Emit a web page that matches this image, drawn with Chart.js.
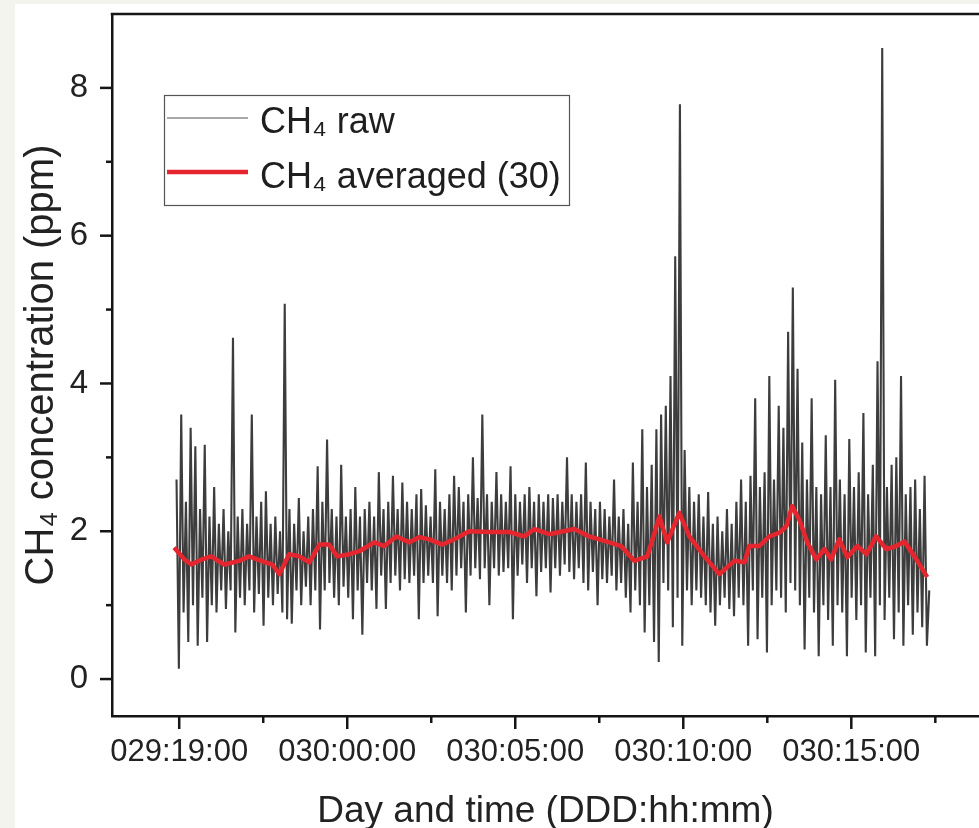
<!DOCTYPE html>
<html><head><meta charset="utf-8">
<script src="https://cdn.jsdelivr.net/npm/chart.js@4/dist/chart.umd.min.js"></script>
<style>
html,body{margin:0;padding:0;background:#f3f5ec;width:979px;height:828px;overflow:hidden}
#wrap{position:absolute;left:15px;top:4px;width:964px;height:824px;background:#fff}
canvas{display:block}
</style></head><body>
<div id="wrap"><canvas id="c" width="964" height="824"></canvas></div>
<script>
// ---- data (hours since day 029 00:00) ----
const rawStartHour = 18.92;
const rawStepHour = 0.07;
const rawValues = [
2.7,0.14,3.58,0.9,2.4,0.5,3.4,1.0,3.15,0.45,2.3,1.1,3.17,0.5,2.2,1.0,2.6,0.9,2.1,1.2,
2.3,0.95,2.0,1.2,4.62,0.63,2.2,1.1,2.3,1.0,2.1,1.2,3.58,0.9,2.2,1.15,2.4,0.72,2.54,1.1,
2.1,1.0,2.2,1.15,2.0,0.9,5.08,0.81,2.3,0.75,2.1,1.2,2.45,1.0,2.0,1.25,2.2,1.0,2.3,1.2,
2.88,0.67,2.4,1.2,3.24,1.3,2.3,1.1,2.2,1.0,2.9,1.25,2.2,1.1,2.3,0.81,2.6,1.2,2.2,0.6,
2.3,1.3,2.4,1.2,2.2,0.95,2.8,1.4,2.3,0.95,2.4,1.3,2.75,1.4,2.3,1.2,2.66,1.35,2.4,1.3,
2.3,1.4,2.5,0.81,2.57,1.3,2.35,1.4,2.2,1.3,2.84,0.85,2.4,1.4,2.3,1.3,2.5,1.2,2.75,1.4,
2.6,1.5,2.4,0.9,2.5,1.4,3.0,1.5,2.45,1.35,3.58,1.5,2.5,1.0,2.4,1.5,2.8,1.4,2.5,1.45,
2.4,1.5,2.88,0.81,2.5,1.4,2.4,1.55,2.5,1.3,2.6,1.5,2.4,1.12,2.5,1.45,2.4,1.5,2.5,1.17,
2.45,1.5,2.5,1.4,2.4,1.55,3.0,1.45,2.5,1.35,2.4,1.5,2.5,1.3,2.93,1.2,2.4,1.45,2.3,1.0,
2.4,1.35,2.3,1.3,2.2,1.4,2.7,1.2,2.2,1.3,2.3,1.1,2.1,0.9,2.93,1.2,2.4,1.0,3.38,0.63,
2.6,1.0,2.9,0.5,3.38,0.23,3.58,1.3,3.7,1.2,4.1,0.7,5.72,1.1,7.78,0.45,3.1,1.2,2.6,1.0,
2.4,1.2,2.5,1.1,2.2,1.0,2.53,0.9,2.1,0.72,2.2,1.0,2.0,1.1,2.3,0.95,2.1,0.85,2.4,1.1,
2.7,1.0,2.4,0.45,2.75,1.2,3.8,0.54,2.6,1.1,2.8,0.36,4.1,1.0,2.7,1.2,3.7,1.1,3.4,0.9,
4.7,1.3,5.3,1.2,4.2,1.0,3.2,0.4,2.7,1.1,3.8,0.9,2.6,0.31,2.5,1.0,3.3,0.8,2.6,0.45,
4.05,1.0,2.7,0.9,2.5,0.31,3.25,1.1,2.6,0.8,2.8,1.0,3.6,0.36,2.5,1.1,2.9,0.31,4.3,1.0,
8.54,0.8,2.6,1.1,2.9,0.54,3.0,0.9,4.1,0.45,2.5,1.0,2.6,0.6,2.7,0.9,2.3,0.7,2.75,0.45,1.2
];
const avgHours = [18.85,19.15,19.36,19.68,19.95,20.34,20.79,21.08,21.44,21.77,21.98,22.27,22.57,22.87,23.17,23.46,23.70,24.06,24.36,24.80,25.10,25.46,25.85,26.14,26.44,26.83,27.18,27.63,28.23,28.82,29.27,29.57,30.01,30.76,31.20,31.80,32.15,32.54,32.93,33.29,33.52,33.88,34.18,34.63,35.07,35.52,35.82,35.96,36.26,36.56,36.86,37.07,37.24,37.45,37.69,37.96,38.20,38.40,38.64,38.88,39.18,39.45,39.74,40.04,40.34,40.58,40.88,41.26];
const avgValues = [1.78,1.62,1.55,1.62,1.66,1.55,1.60,1.66,1.60,1.55,1.42,1.69,1.66,1.58,1.82,1.82,1.66,1.69,1.73,1.85,1.80,1.93,1.85,1.92,1.89,1.82,1.89,2.00,1.99,1.99,1.93,2.03,1.96,2.03,1.93,1.85,1.80,1.60,1.66,2.20,1.85,2.25,1.93,1.66,1.42,1.60,1.58,1.80,1.80,1.93,1.98,2.07,2.34,2.16,1.85,1.62,1.76,1.62,1.89,1.65,1.80,1.69,1.93,1.76,1.80,1.86,1.66,1.38];
const xTickValues = [19, 24, 29, 34, 39];
const xTickLabels = ['029:19:00', '030:00:00', '030:05:00', '030:10:00', '030:15:00'];
const xMinorTicks = [21.5, 26.5, 31.5, 36.5, 41.5];
const yTickValues = [0, 2, 4, 6, 8];
const yMinorTicks = [1, 3, 5, 7];
const seriesLabels = ['CH\u2084 raw', 'CH\u2084 averaged (30)'];
const xTitle = 'Day and time (DDD:hh:mm)';
const yTitle = 'CH\u2084 concentration (ppm)';

const FONT = "'Liberation Sans', Arial, sans-serif";
const AXIS = '#151515';

const rawPoints = rawValues.map((v, i) => ({x: rawStartHour + i * rawStepHour, y: v}));
const avgPoints = avgHours.map((h, i) => ({x: h, y: avgValues[i]}));

const decor = {
  id: 'decor',
  afterDraw(chart) {
    const ctx = chart.ctx, a = chart.chartArea;
    const xs = chart.scales.x, ys = chart.scales.y;
    ctx.save();
    ctx.strokeStyle = AXIS; ctx.lineWidth = 2.5; ctx.lineCap = 'butt';
    ctx.beginPath(); ctx.moveTo(a.left - 1.25, a.top); ctx.lineTo(a.right, a.top); ctx.stroke();
    yTickValues.forEach(v => { const p = ys.getPixelForValue(v); ctx.beginPath(); ctx.moveTo(a.left - 12, p); ctx.lineTo(a.left, p); ctx.stroke(); });
    yMinorTicks.forEach(v => { const p = ys.getPixelForValue(v); ctx.beginPath(); ctx.moveTo(a.left - 6, p); ctx.lineTo(a.left, p); ctx.stroke(); });
    xTickValues.forEach(v => { const p = xs.getPixelForValue(v); ctx.beginPath(); ctx.moveTo(p, a.bottom); ctx.lineTo(p, a.bottom + 13); ctx.stroke(); });
    xMinorTicks.forEach(v => { const p = xs.getPixelForValue(v); ctx.beginPath(); ctx.moveTo(p, a.bottom); ctx.lineTo(p, a.bottom + 7); ctx.stroke(); });
    // legend
    const ds = chart.data.datasets;
    ctx.lineWidth = 1.2; ctx.strokeStyle = '#555';
    ctx.strokeRect(149.5, 91.5, 405, 110);
    const rows = [{ly: 114, ty: 129}, {ly: 168, ty: 184}];
    ds.forEach((d, i) => {
      ctx.strokeStyle = i === 0 ? '#555' : d.borderColor; ctx.lineWidth = i === 0 ? 1.2 : 4.5;
      ctx.beginPath(); ctx.moveTo(152, rows[i].ly); ctx.lineTo(233, rows[i].ly); ctx.stroke();
      ctx.fillStyle = '#1e1e1e'; ctx.font = '36px ' + FONT; ctx.textBaseline = 'alphabetic'; ctx.textAlign = 'left';
      ctx.fillText(d.label, 245, rows[i].ty);
    });
    ctx.restore();
  }
};

new Chart(document.getElementById('c'), {
  type: 'line',
  data: {
    datasets: [
      {label: seriesLabels[0], data: rawPoints, borderColor: '#3d3d3d', borderWidth: 2.1, pointRadius: 0, tension: 0, order: 1},
      {label: seriesLabels[1], data: avgPoints, borderColor: '#e5262f', borderWidth: 4.5, pointRadius: 0, tension: 0, order: 0, borderJoinStyle: 'round'}
    ]
  },
  options: {
    responsive: false, animation: false, devicePixelRatio: 1,
    layout: {padding: {top: 10, left: 0, right: 0, bottom: 0}},
    plugins: {legend: {display: false}, tooltip: {enabled: false}},
    scales: {
      x: {
        type: 'linear', min: 17, max: 42.8,
        afterBuildTicks: s => { s.ticks = xTickValues.map(v => ({value: v})); },
        afterFit: s => { s.height = 112; s.paddingLeft = 0; s.paddingRight = 0; },
        ticks: {autoSkip: false, maxRotation: 0, padding: 18, color: '#222', font: {family: FONT, size: 31},
          callback: v => { const i = xTickValues.indexOf(v); return i < 0 ? '' : xTickLabels[i]; }},
        grid: {display: true, drawOnChartArea: false, drawTicks: false},
        border: {display: true, color: AXIS, width: 2.5},
        title: {display: true, text: xTitle, color: '#222', font: {family: FONT, size: 37}, padding: {top: 0, bottom: -6}}
      },
      y: {
        min: -0.5, max: 9,
        afterBuildTicks: s => { s.ticks = yTickValues.map(v => ({value: v})); },
        afterFit: s => { s.width = 97; s.paddingTop = 0; s.paddingBottom = 0; },
        ticks: {padding: 24, color: '#222', font: {family: FONT, size: 33}, callback: v => String(v)},
        grid: {display: true, drawOnChartArea: false, drawTicks: false},
        border: {display: true, color: AXIS, width: 2.5},
        title: {display: true, text: yTitle, color: '#222', font: {family: FONT, size: 40}, padding: {top: 3, bottom: 0}}
      }
    }
  },
  plugins: [decor]
});
</script>
</body></html>
